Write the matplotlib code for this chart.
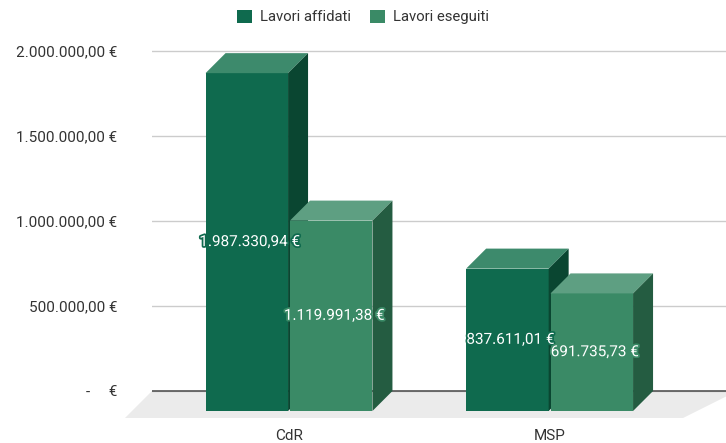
import numpy as np
import matplotlib
matplotlib.use('Agg')
import matplotlib.pyplot as plt
from matplotlib.patches import Polygon, Patch
import matplotlib.patheffects as pe

plt.rcParams['font.family'] = ['Roboto', 'DejaVu Sans']

# dati
categorie = ['CdR', 'MSP']
serie = ['Lavori affidati', 'Lavori eseguiti']
affidati = [1987330.94, 837611.01]
eseguiti = [1119991.38, 691735.73]
yticks = [0, 500000, 1000000, 1500000, 2000000]

# colori: fronte, cima, lato
col_fronte = ['#0f6a4e', '#3a8a66']
col_cima = ['#3d8a6c', '#5e9f82']
col_lato = ['#0a4631', '#245c41']


def fmt_eur(v):
    if v == 0:
        return '-     €'
    s = f'{v:,.2f}'.replace(',', 'X').replace('.', ',').replace('X', '.')
    return s + ' €'


# geometria in pixel della figura
W, H = 726, 443
ax_l, ax_r, ax_t, ax_b = 152, 726, 30, 426
zero_px = 391
px_per_M = 170.0
cat_px = [289, 549.6]
unit_px = cat_px[1] - cat_px[0]

fig = plt.figure(figsize=(W / 100, H / 100), dpi=100)
ax = fig.add_axes([ax_l / W, 1 - ax_b / H, (ax_r - ax_l) / W, (ax_b - ax_t) / H])
ax.set_xlim((ax_l - cat_px[0]) / unit_px, (ax_r - cat_px[0]) / unit_px)
ax.set_ylim((zero_px - ax_b) / px_per_M * 1e6, (zero_px - ax_t) / px_per_M * 1e6)

px_x = 1.0 / unit_px          # 1 pixel in unità x
px_y = 1e6 / px_per_M         # 1 pixel in unità y

dx, dy = 20 * px_x, 20 * px_y     # profondità barre
fx, fy = 27 * px_x, 27 * px_y     # profondità pavimento
larg = 82.5 * px_x
off = 42.2 * px_x

# pavimento
x0, x1 = ax.get_xlim()
floor = Polygon([(x0 - fx, -fy), (x1 - fx - 16 * px_x, -fy), (x1 + 11 * px_x, 0), (x0, 0)],
                closed=True, facecolor='#ebebeb', edgecolor='none', zorder=0, clip_on=False)
ax.add_patch(floor)

# griglia
ax.set_yticks(yticks)
ax.set_yticklabels([fmt_eur(v) for v in yticks])
ax.yaxis.grid(True, color='#cccccc', linewidth=1, zorder=1)
ax.set_axisbelow(True)
ax.axhline(0, color='#555555', linewidth=1.2, zorder=1)

for s in ax.spines.values():
    s.set_visible(False)
ax.tick_params(axis='y', length=0, pad=25, labelsize=11, labelcolor='#333333')
ax.set_xticks(range(len(categorie)))
ax.set_xticklabels(categorie)
ax.tick_params(axis='x', length=0, pad=2, labelsize=11, labelcolor='#333333')

# barre 3D
for i in range(len(categorie)):
    for j, valori in enumerate([affidati, eseguiti]):
        xc = i + (j - 0.5) * 2 * off
        v = valori[i]
        xl, xr = xc - larg / 2, xc + larg / 2
        top = v - dy
        ax.bar(xc, v, width=larg, bottom=-dy, color=col_fronte[j], zorder=3 + j * 2)
        cima = Polygon([(xl, top), (xr, top), (xr + dx, top + dy), (xl + dx, top + dy)],
                       closed=True, facecolor=col_cima[j], edgecolor='none', zorder=3 + j * 2)
        lato = Polygon([(xr, -dy), (xr + dx, 0), (xr + dx, top + dy), (xr, top)],
                       closed=True, facecolor=col_lato[j], edgecolor='none', zorder=3 + j * 2)
        ax.add_patch(cima)
        ax.add_patch(lato)
        ax.text(xc + 3 * px_x, (top - dy) / 2, fmt_eur(v), ha='center', va='center',
                color='white', fontsize=11, zorder=10,
                path_effects=[pe.withStroke(linewidth=2.5, foreground=col_fronte[j])])

# legenda
handles = [Patch(facecolor=c, edgecolor='none') for c in col_fronte]
fig.legend(handles, serie, loc='center', bbox_to_anchor=(0.5, 1 - 17 / H), ncol=2,
           frameon=False, fontsize=10.7, handlelength=1.0, handleheight=1.0,
           handletextpad=0.55, columnspacing=1.3, labelcolor='#333333')

plt.savefig('out.png', dpi=100)
plt.close()
